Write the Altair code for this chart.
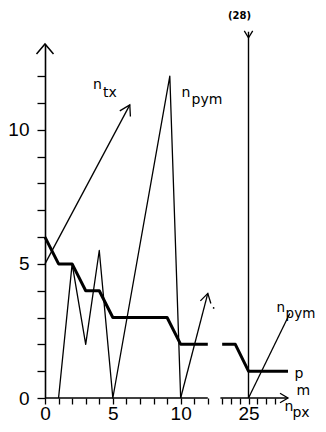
import altair as alt
import pandas as pd

# ---------------- data (n_px on x, values on y) ----------------
# left section of the broken n_px axis (0 .. 12)
pm_left_x = [0, 1, 2, 3, 4, 5, 9, 10, 12]
pm_left_y = [6, 5, 5, 4, 4, 3, 3, 2, 2]
pym_left_x = [1, 2, 3, 4, 5, 9.2, 10]
pym_left_y = [0, 5, 2, 5.5, 0, 12, 0]
pym_cont_x = [10, 12.0]
pym_cont_y = [0, 3.9]
ntx_x = [0, 6.25]
ntx_y = [5, 10.93]
dot_x = [12.43]
dot_y = [3.36]

# right section of the broken axis (22 .. 29)
pm_right_x = [22, 23.5, 25, 29.5]
pm_right_y = [2, 2, 1, 1]
pym_right_x = [25, 29.7]
pym_right_y = [0, 3.15]
spike_x = [25]
spike_y = [0]
spike_top = [13.66]          # off-scale value, labelled (28)
spike_label = ["(28)"]

# axis ticks / segments
left_ticks_x = list(range(0, 13))
right_ticks_x = list(range(22, 29))
ticks_y = list(range(0, 13))
axis_seg_x = [0, 21.8]
axis_seg_x2 = [12, 29.5]

Y_DOM = [0, 13.2]
BREAK_AT = 25          # real value drawn at display position 15
BREAK_POS = 15
RIGHT_K = 0.647        # compressed unit length of the right section

TICK_FONT = "Liberation Sans"
LAB_FONT = "DejaVu Sans"
ARROW = "M-0.6,1L0,0L0.6,1"
ARROW_WIDE = "M-0.85,1L0,0L0.85,1"

XD_EXPR = f"datum.x <= 13 ? datum.x : {BREAK_POS} + (datum.x - {BREAK_AT}) * {RIGHT_K}"
X2D_EXPR = f"datum.x2 <= 13 ? datum.x2 : {BREAK_POS} + (datum.x2 - {BREAK_AT}) * {RIGHT_K}"


def to_disp(v):
    return v if v <= 13 else BREAK_POS + (v - BREAK_AT) * RIGHT_K


tick_disp = [to_disp(v) for v in left_ticks_x + right_ticks_x]
X_DOM = [0, to_disp(29.5)]

axis_common = dict(title=None, grid=False, domainColor="black", tickColor="black",
                   labelColor="black", labelFont=TICK_FONT, labelFontSize=19,
                   labelFlush=False, labelOverlap=False, tickWidth=1.3, domainWidth=1.6)
x_axis = alt.Axis(values=tick_disp, domain=False, tickSize=6, labelPadding=0,
                  labelExpr=("datum.value <= 13 ? (datum.value % 5 == 0 ? datum.label : '') : "
                             f"(abs(datum.value - {BREAK_POS}) < 0.01 ? '{BREAK_AT}' : '')"),
                  **axis_common)
y_axis = alt.Axis(values=ticks_y, tickSize=8, labelPadding=8,
                  labelExpr="datum.value % 5 == 0 ? datum.label : ''", **axis_common)

XE = alt.X("xd:Q", scale=alt.Scale(domain=X_DOM, nice=False, zero=False), axis=x_axis)
YE = alt.Y("y:Q", scale=alt.Scale(domain=Y_DOM, nice=False), axis=y_axis)


def base(df):
    return alt.Chart(df).transform_calculate(xd=XD_EXPR)


def line_layer(xs, ys, width):
    df = pd.DataFrame({"x": xs, "y": ys, "i": list(range(len(xs)))})
    return base(df).mark_line(color="black", strokeWidth=width, strokeJoin="round").encode(
        x=XE, y=YE, order="i:Q")


def arrow_layer(x, y, angle, s, shape=ARROW, sw=1.3):
    df = pd.DataFrame({"x": [x], "y": [y]})
    return base(df).mark_point(shape=shape, filled=False, size=(2 * s) ** 2, angle=angle,
                               color="black", strokeWidth=sw, opacity=1).encode(x=XE, y=YE)


def label_layers(x, y, main, sub, dx, dy, fs=14):
    df = pd.DataFrame({"x": [x], "y": [y], "main": [main], "sub": [sub]})
    t1 = base(df).mark_text(align="left", baseline="alphabetic", font=LAB_FONT, fontSize=fs,
                            color="black").encode(x=XE, y=YE, text="main:N")
    t2 = base(df).mark_text(align="left", baseline="alphabetic", font=LAB_FONT, fontSize=fs,
                            color="black", dx=dx, dy=dy).encode(x=XE, y=YE, text="sub:N")
    return [t1, t2]


seg_df = pd.DataFrame({"x": axis_seg_x, "x2": axis_seg_x2, "y": [0, 0]})
axis_lines = (alt.Chart(seg_df).transform_calculate(xd=XD_EXPR, x2d=X2D_EXPR)
              .mark_rule(color="black", strokeWidth=1.6)
              .encode(x=XE, x2="x2d:Q", y=YE))

spike_df = pd.DataFrame({"x": spike_x, "y": spike_y, "y2": spike_top})
spike = base(spike_df).mark_rule(color="black", strokeWidth=1.4).encode(x=XE, y=YE, y2="y2:Q")

dot = base(pd.DataFrame({"x": dot_x, "y": dot_y})).mark_point(
    filled=True, size=3, color="black", opacity=1).encode(x=XE, y=YE)

spike_text = base(pd.DataFrame({"x": [23.98], "y": [14.14], "t": spike_label})).mark_text(
    align="center", baseline="alphabetic", font=LAB_FONT, fontSize=10, fontWeight="bold",
    color="black").encode(x=XE, y=YE, text="t:N")

layers = [
    axis_lines,
    line_layer(pm_left_x, pm_left_y, 3),
    line_layer(pym_left_x, pym_left_y, 1.3),
    line_layer(pym_cont_x, pym_cont_y, 1.3),
    line_layer(ntx_x, ntx_y, 1.3),
    line_layer(pm_right_x, pm_right_y, 3),
    line_layer(pym_right_x, pym_right_y, 1.3),
    spike,
    dot,
    spike_text,
    arrow_layer(ntx_x[-1], ntx_y[-1], 28, 10),
    arrow_layer(pym_cont_x[-1], pym_cont_y[-1], 14, 9),
    arrow_layer(0, Y_DOM[1], 0, 10, shape=ARROW_WIDE, sw=1.5),
    arrow_layer(spike_x[0], 13.43, 180, 7),
    arrow_layer(29.5, 0, 90, 8),
]
layers += label_layers(3.53, 11.53, "n", "tx", 10, 8)
layers += label_layers(10.07, 11.23, "n", "pym", 10, 7)
layers += label_layers(28.2, 3.21, "n", "pym", 9, 6, fs=13.5)
layers += label_layers(30.23, 0.75, "p", "m", 2, 17)
layers += label_layers(29.09, -0.5, "n", "px", 8, 6)

chart = alt.layer(*layers).properties(
    width=243, height=354,
    autosize=alt.AutoSizeParams(type="none"),
    padding={"left": 37, "top": 36, "right": 30, "bottom": 26},
).configure_view(stroke=None).configure_axis(grid=False)

chart.save("out.html", embed_options={"renderer": "svg", "actions": False})
